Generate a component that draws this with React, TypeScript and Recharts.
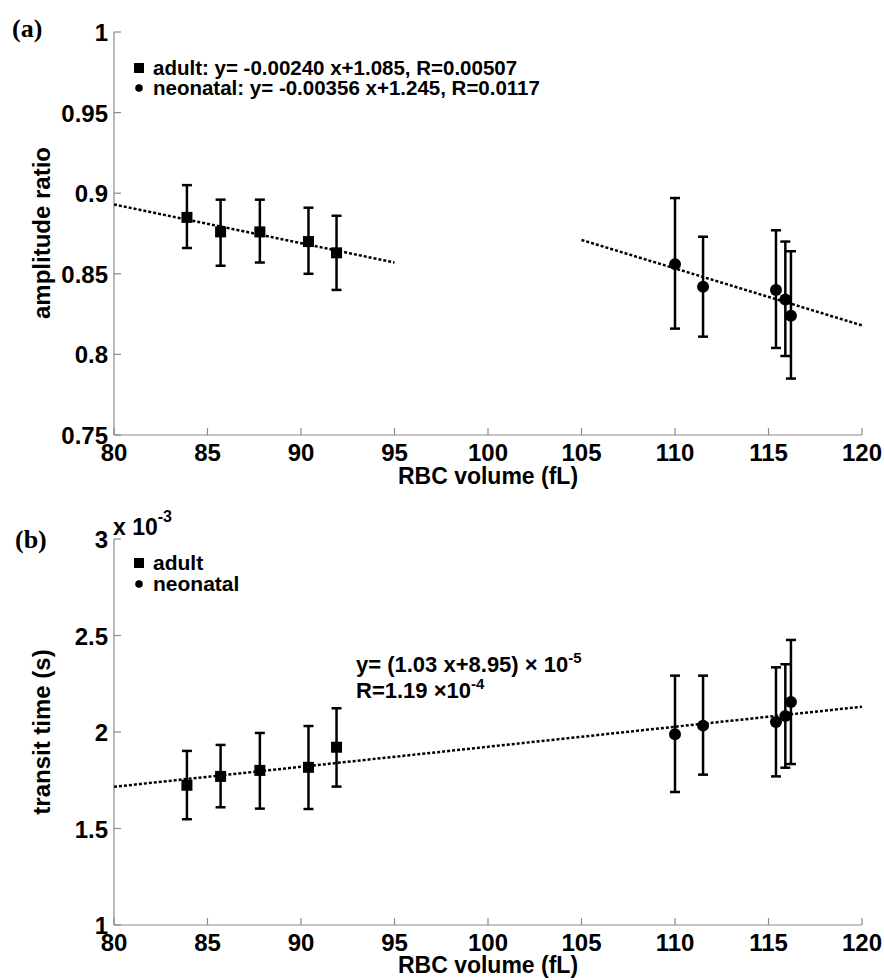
import React from 'react'
import { ComposedChart, Scatter, XAxis, YAxis, ErrorBar } from 'recharts'

// RBC volume (fL), same samples in both panels
const xAdult = [83.9, 85.7, 87.8, 90.4, 91.9]
const xNeo = [110.0, 111.5, 115.4, 115.9, 116.2]

// (a) amplitude ratio
const ampAdult = [0.885, 0.876, 0.876, 0.87, 0.863]
const ampAdultHi = [0.905, 0.896, 0.896, 0.891, 0.886]
const ampAdultLo = [0.866, 0.855, 0.857, 0.85, 0.84]
const ampNeo = [0.856, 0.842, 0.84, 0.834, 0.824]
const ampNeoHi = [0.897, 0.873, 0.877, 0.87, 0.864]
const ampNeoLo = [0.816, 0.811, 0.804, 0.799, 0.785]
const fitAdultX = [80, 95]
const fitAdultY = [0.893, 0.857]
const fitNeoX = [105, 120]
const fitNeoY = [0.871, 0.818]

// (b) transit time, x 10^-3 s
const ttAdult = [1.724, 1.77, 1.801, 1.817, 1.921]
const ttAdultHi = [1.902, 1.933, 1.995, 2.031, 2.123]
const ttAdultLo = [1.548, 1.61, 1.603, 1.601, 1.717]
const ttNeo = [1.988, 2.033, 2.052, 2.083, 2.155]
const ttNeoHi = [2.292, 2.292, 2.335, 2.351, 2.477]
const ttNeoLo = [1.689, 1.779, 1.77, 1.815, 1.834]
const fitAllX = [80, 120]
const fitAllY = [1.716, 2.131]

const xTicks = [80, 85, 90, 95, 100, 105, 110, 115, 120]
const ampTicks = [0.75, 0.8, 0.85, 0.9, 0.95, 1]
const ttTicks = [1, 1.5, 2, 2.5, 3]

const AXIS = '#8a8a8a'
const FONT = '"Liberation Sans", Arial, sans-serif'
const TICK_LEN = 7

const points = (xs: number[], ys: number[], hi: number[], lo: number[]) =>
  xs.map((x, i) => ({ x, y: ys[i], err: [ys[i] - lo[i], hi[i] - ys[i]] }))
const line = (xs: number[], ys: number[]) => xs.map((x, i) => ({ x, y: ys[i] }))

const fmt = (v: number) => String(v)

const BottomTick = (p: any) => (
  <g>
    <line x1={p.x} x2={p.x} y1={p.y} y2={p.y - TICK_LEN} stroke={AXIS} strokeWidth={1.2} />
    <text x={p.x} y={p.y + 26} textAnchor="middle" fontFamily={FONT} fontWeight="bold" fontSize={24} fill="#000">
      {fmt(p.payload.value)}
    </text>
  </g>
)
const TopTick = (p: any) => (
  <line x1={p.x} x2={p.x} y1={p.y} y2={p.y + TICK_LEN} stroke={AXIS} strokeWidth={1.2} />
)
const LeftTick = (p: any) => (
  <g>
    <line x1={p.x} x2={p.x + TICK_LEN} y1={p.y} y2={p.y} stroke={AXIS} strokeWidth={1.2} />
    <text x={p.x - 6} y={p.y + 9} textAnchor="end" fontFamily={FONT} fontWeight="bold" fontSize={24} fill="#000">
      {fmt(p.payload.value)}
    </text>
  </g>
)
const RightTick = (p: any) => (
  <line x1={p.x} x2={p.x - TICK_LEN} y1={p.y} y2={p.y} stroke={AXIS} strokeWidth={1.2} />
)

const squareShape = (p: any) => <rect x={p.cx - 5.5} y={p.cy - 5.5} width={11} height={11} fill="#000" />
const circleShape = (p: any) => <circle cx={p.cx} cy={p.cy} r={6} fill="#000" />
const noShape = () => <g />

const fitLine = { stroke: '#000', strokeWidth: 2.5, strokeDasharray: '3 2' }

function Panel(props: {
  top: number
  plotTop: number
  plotHeight: number
  ticks: number[]
  domain: [number, number]
  adult: any[]
  neo: any[]
  fits: any[][]
}) {
  const axisCommon = { type: 'number' as const, interval: 0 as const, tickSize: 0, tickMargin: 0, axisLine: { stroke: AXIS, strokeWidth: 1.2 } }
  const bottom = 490 - props.plotTop - props.plotHeight - 30
  return (
    <div style={{ position: 'absolute', left: 0, top: props.top, width: 884, height: 490 }}>
      <ComposedChart width={884} height={490} margin={{ top: props.plotTop, right: 22, bottom, left: 54 }}>
        <XAxis {...axisCommon} dataKey="x" xAxisId={0} domain={[80, 120]} ticks={xTicks} height={30} tick={BottomTick} />
        <XAxis {...axisCommon} dataKey="x" xAxisId="top" orientation="top" domain={[80, 120]} ticks={xTicks} height={0} tick={TopTick} />
        <YAxis {...axisCommon} dataKey="y" yAxisId={0} domain={props.domain} ticks={props.ticks} width={60} tick={LeftTick} />
        <YAxis {...axisCommon} dataKey="y" yAxisId="right" orientation="right" domain={props.domain} ticks={props.ticks} width={0} tick={RightTick} />
        {props.fits.map((f, i) => (
          <Scatter key={i} data={f} line={fitLine} shape={noShape} isAnimationActive={false} />
        ))}
        <Scatter data={props.adult} shape={squareShape} isAnimationActive={false}>
          <ErrorBar dataKey="err" direction="y" width={5} stroke="#000" strokeWidth={2.5} isAnimationActive={false} />
        </Scatter>
        <Scatter data={props.neo} shape={circleShape} isAnimationActive={false}>
          <ErrorBar dataKey="err" direction="y" width={5} stroke="#000" strokeWidth={2.5} isAnimationActive={false} />
        </Scatter>
      </ComposedChart>
    </div>
  )
}

const txt = { fontFamily: FONT, fontWeight: 'bold' as const, fill: '#000' }

export default function App() {
  return (
    <div style={{ position: 'absolute', left: 0, top: 0, width: 884, height: 980, background: '#fff', overflow: 'hidden' }}>
      <Panel
        top={0}
        plotTop={32}
        plotHeight={403}
        ticks={ampTicks}
        domain={[0.75, 1]}
        adult={points(xAdult, ampAdult, ampAdultHi, ampAdultLo)}
        neo={points(xNeo, ampNeo, ampNeoHi, ampNeoLo)}
        fits={[line(fitAdultX, fitAdultY), line(fitNeoX, fitNeoY)]}
      />
      <Panel
        top={490}
        plotTop={49}
        plotHeight={386}
        ticks={ttTicks}
        domain={[1, 3]}
        adult={points(xAdult, ttAdult, ttAdultHi, ttAdultLo)}
        neo={points(xNeo, ttNeo, ttNeoHi, ttNeoLo)}
        fits={[line(fitAllX, fitAllY)]}
      />
      <svg width={884} height={980} style={{ position: 'absolute', left: 0, top: 0, pointerEvents: 'none' }}>
        {/* panel (a) */}
        <text x={12} y={37} fontFamily='"Liberation Serif", serif' fontWeight="bold" fontSize={26}>(a)</text>
        <rect x={134} y={63} width={10} height={10} fill="#000" />
        <text x={153} y={75} {...txt} fontSize={20.5}>adult: y= -0.00240 x+1.085, R=0.00507</text>
        <circle cx={139} cy={88} r={3.8} fill="#000" />
        <text x={153} y={95} {...txt} fontSize={20.5}>neonatal: y= -0.00356 x+1.245, R=0.0117</text>
        <text x={488} y={484} textAnchor="middle" {...txt} fontSize={23}>RBC volume (fL)</text>
        <text transform="translate(50,233) rotate(-90)" textAnchor="middle" {...txt} fontSize={24}>amplitude ratio</text>

        {/* panel (b) */}
        <text x={15} y={548} fontFamily='"Liberation Serif", serif' fontWeight="bold" fontSize={26}>(b)</text>
        <text x={113} y={535} {...txt} fontSize={23}>
          x 10<tspan dy={-13} fontSize={16}>-3</tspan>
        </text>
        <rect x={134} y={558} width={10} height={10} fill="#000" />
        <text x={153} y={570} {...txt} fontSize={21}>adult</text>
        <circle cx={139} cy={584} r={3.8} fill="#000" />
        <text x={153} y={591} {...txt} fontSize={21}>neonatal</text>
        <text x={356} y={672} {...txt} fontSize={22}>
          y= (1.03 x+8.95) × 10<tspan dy={-9} fontSize={15}>-5</tspan>
        </text>
        <text x={356} y={698} {...txt} fontSize={22}>
          R=1.19 ×10<tspan dy={-9} fontSize={15}>-4</tspan>
        </text>
        <text x={488} y={973} textAnchor="middle" {...txt} fontSize={23}>RBC volume (fL)</text>
        <text transform="translate(50,732) rotate(-90)" textAnchor="middle" {...txt} fontSize={24}>transit time (s)</text>
      </svg>
    </div>
  )
}
